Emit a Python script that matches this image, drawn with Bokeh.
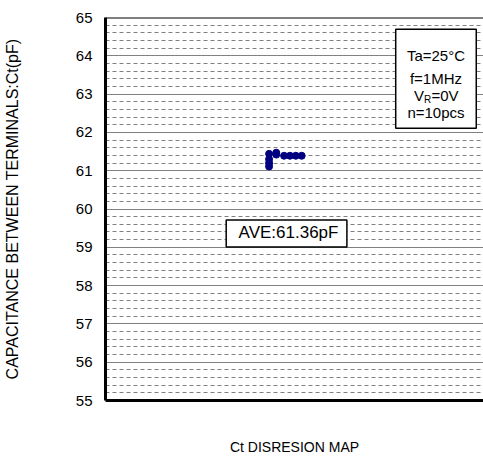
import math
from bokeh.plotting import figure
from bokeh.models import Range1d, SingleIntervalTicker, FixedTicker, Span, BoxAnnotation, Label
from bokeh.embed import file_html
from bokeh.resources import INLINE

FONT = "Liberation Sans"

# ---- data ----
sample_pos = [25.1, 25.1, 25.1, 25.1, 26.2, 26.2, 27.4, 28.3, 29.2, 30.1]
ct_pf = [61.11, 61.2, 61.3, 61.44, 61.42, 61.47, 61.39, 61.39, 61.39, 61.39]
y_min, y_max = 55, 65
ave_text = "AVE:61.36pF"
cond_texts = ["Ta=25°C", "f=1MHz", "n=10pcs"]
cond_y = [64.0, 63.41, 62.53]
vr_parts = ["V", "R", "=0V"]
vr_y = 62.96
x_title = "Ct DISRESION MAP"
y_title = "CAPACITANCE BETWEEN TERMINALS:Ct(pF)"

p = figure(width=483, height=457, x_range=Range1d(0, 58), y_range=Range1d(y_min, y_max),
           output_backend="svg", toolbar_location=None,
           min_border_left=104, min_border_right=0, min_border_top=17, min_border_bottom=56)
p.outline_line_color = None
p.background_fill_color = "white"
p.border_fill_color = "white"

# grid
yt = SingleIntervalTicker(interval=1, num_minor_ticks=5)
p.yaxis.ticker = yt
p.ygrid.ticker = yt
p.xgrid.visible = False
p.ygrid.grid_line_color = "#808080"
p.ygrid.grid_line_width = 1
p.ygrid.minor_grid_line_color = "#808080"
p.ygrid.minor_grid_line_dash = "4 3"
p.ygrid.minor_grid_line_width = 1

# y axis
p.yaxis.axis_line_width = 3
p.yaxis.axis_line_color = "black"
p.yaxis.major_tick_line_color = None
p.yaxis.minor_tick_line_color = None
p.yaxis.major_tick_in = 0
p.yaxis.major_tick_out = 0
p.yaxis.minor_tick_in = 0
p.yaxis.minor_tick_out = 0
p.yaxis.major_label_standoff = 13
p.yaxis.major_label_text_font = FONT
p.yaxis.major_label_text_font_size = "15px"
p.yaxis.major_label_text_color = "black"
p.yaxis.axis_label = y_title
p.yaxis.axis_label_text_font = FONT
p.yaxis.axis_label_text_font_size = "16px"
p.yaxis.axis_label_text_font_style = "normal"
p.yaxis.axis_label_text_color = "black"
p.yaxis.axis_label_standoff = 52

# x axis
p.xaxis.ticker = FixedTicker(ticks=[])
p.xaxis.axis_line_width = 3
p.xaxis.axis_line_color = "black"
p.xaxis.major_tick_line_color = None
p.xaxis.minor_tick_line_color = None
p.xaxis.major_tick_out = 0
p.xaxis.axis_label = x_title
p.xaxis.axis_label_text_font = FONT
p.xaxis.axis_label_text_font_size = "14px"
p.xaxis.axis_label_text_font_style = "normal"
p.xaxis.axis_label_text_color = "black"
p.xaxis.axis_label_standoff = 38

# top border
p.add_layout(Span(location=y_max, dimension="width", line_color="black", line_width=2))

# data points
p.scatter(sample_pos, ct_pf, size=7, color="#000080", line_color="#000080")

# conditions box
p.add_layout(BoxAnnotation(left=44.53, right=56.89, top=64.69, bottom=62.11,
                           fill_color="white", fill_alpha=1, line_color="black",
                           line_width=1.5, line_alpha=1))
cx = 50.71
for t, yy in zip(cond_texts, cond_y):
    p.add_layout(Label(x=cx, y=yy, text=t, text_align="center", text_baseline="middle",
                       text_font=FONT, text_font_size="15px", text_color="black"))
p.add_layout(Label(x=cx, y=vr_y, x_offset=-22, text=vr_parts[0], text_align="left",
                   text_baseline="middle", text_font=FONT, text_font_size="15px", text_color="black"))
p.add_layout(Label(x=cx, y=vr_y - 0.1, x_offset=-12, text=vr_parts[1], text_align="left",
                   text_baseline="middle", text_font=FONT, text_font_size="10px", text_color="black"))
p.add_layout(Label(x=cx, y=vr_y, x_offset=-4.5, text=vr_parts[2], text_align="left",
                   text_baseline="middle", text_font=FONT, text_font_size="15px", text_color="black"))

# average box
p.add_layout(BoxAnnotation(left=18.52, right=37.04, top=59.71, bottom=59.01,
                           fill_color="white", fill_alpha=1, line_color="black",
                           line_width=1.5, line_alpha=1))
p.add_layout(Label(x=28.08, y=59.375, text=ave_text, text_align="center", text_baseline="middle",
                   text_font=FONT, text_font_size="17px", text_color="black"))

open("out.html", "w").write(file_html(p, INLINE))
